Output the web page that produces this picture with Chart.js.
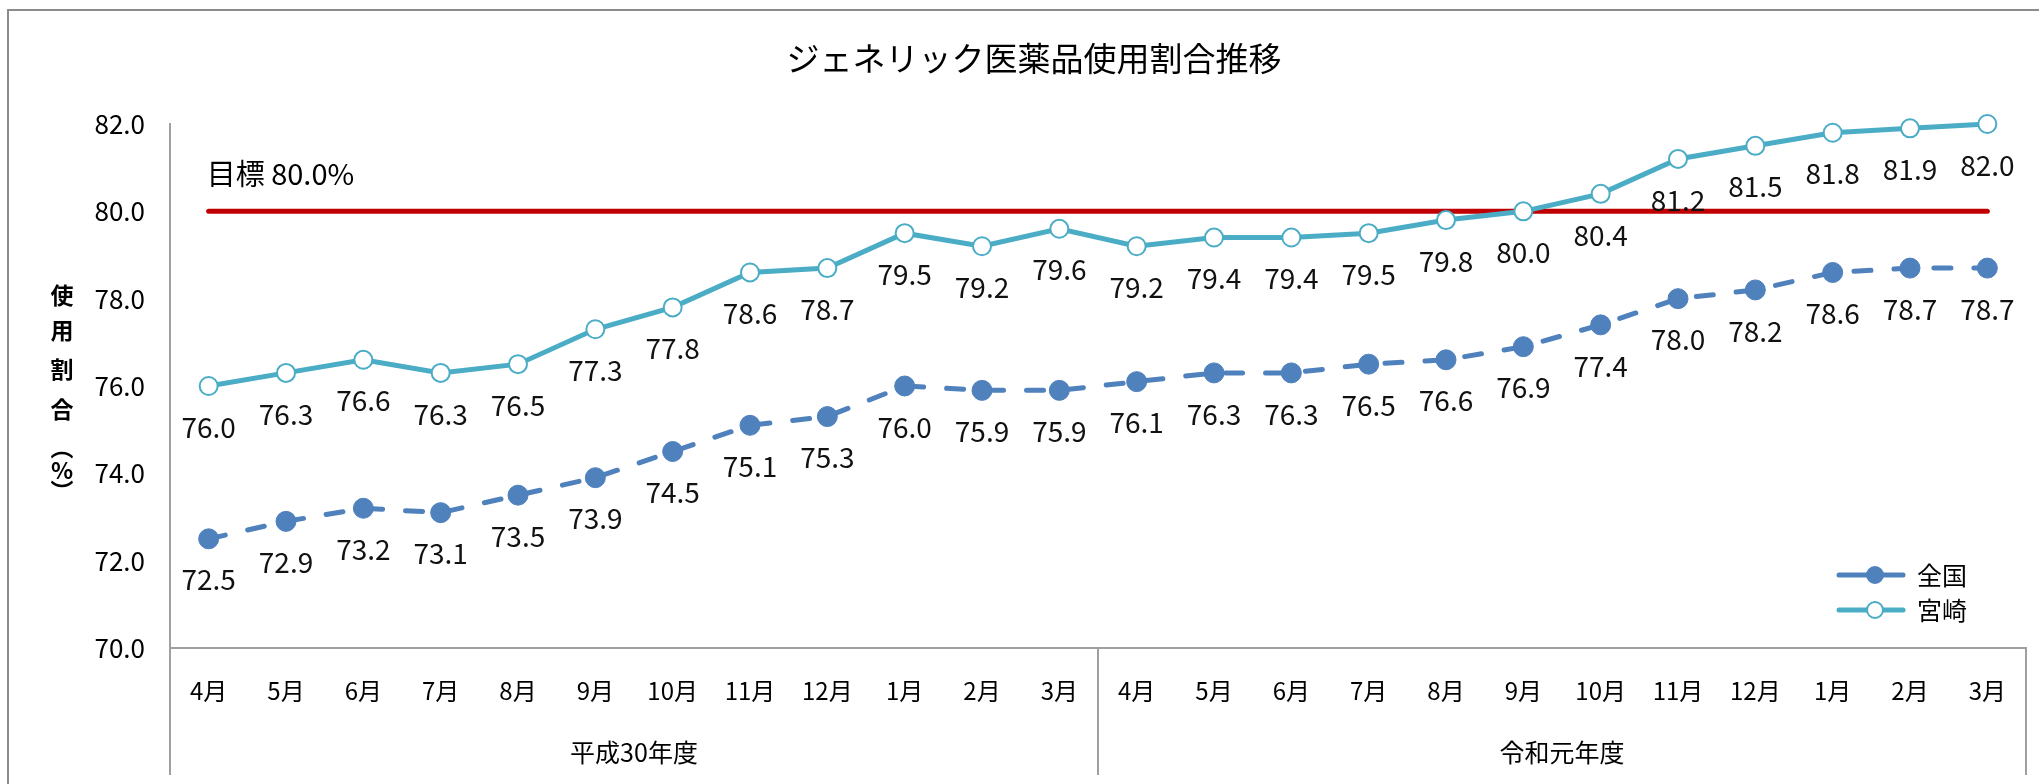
<!DOCTYPE html>
<html>
<head>
<meta charset="utf-8">
<title>ジェネリック医薬品使用割合推移</title>
<script src="https://cdn.jsdelivr.net/npm/chart.js"></script>
<style>
  html, body { margin: 0; padding: 0; overflow: hidden; background: #fff; }
  canvas { display: block; }
</style>
</head>
<body>
<canvas id="myChart" width="2068" height="784" style="width:2068px;height:784px"></canvas>
<script>
// data
const months = ['4月', '5月', '6月', '7月', '8月', '9月', '10月', '11月', '12月', '1月', '2月', '3月',
                '4月', '5月', '6月', '7月', '8月', '9月', '10月', '11月', '12月', '1月', '2月', '3月'];
const fiscalYears = ['平成30年度', '令和元年度'];
const zenkoku = [72.5, 72.9, 73.2, 73.1, 73.5, 73.9, 74.5, 75.1, 75.3, 76.0, 75.9, 75.9,
                 76.1, 76.3, 76.3, 76.5, 76.6, 76.9, 77.4, 78.0, 78.2, 78.6, 78.7, 78.7];
const miyazaki = [76.0, 76.3, 76.6, 76.3, 76.5, 77.3, 77.8, 78.6, 78.7, 79.5, 79.2, 79.6,
                  79.2, 79.4, 79.4, 79.5, 79.8, 80.0, 80.4, 81.2, 81.5, 81.8, 81.9, 82.0];
const target = 80.0;
const yMin = 70, yMax = 82, yStep = 2;
const chartTitle = 'ジェネリック医薬品使用割合推移';

const FONT = "'Noto Sans CJK JP', 'Noto Sans', sans-serif";
const GRAY = '#a0a0a0';
const BLUE = '#4F81BD';
const AQUA = '#4BACC6';
const RED = '#C00000';

// outer chart frame (right/bottom edges fall outside the window) + title
const framePlugin = {
  id: 'frame',
  beforeDraw(chart) {
    const ctx = chart.ctx;
    ctx.save();
    ctx.fillStyle = '#fff';
    ctx.fillRect(0, 0, chart.width, chart.height);
    ctx.strokeStyle = '#8c8c8c';
    ctx.lineWidth = 2;
    ctx.strokeRect(8, 10, chart.width, chart.height);
    ctx.font = '33px ' + FONT;
    ctx.fillStyle = '#000';
    ctx.textAlign = 'center';
    ctx.textBaseline = 'middle';
    ctx.fillText(chartTitle, chart.width / 2, 58);
    ctx.restore();
  }
};

// value labels under every point
const valueLabels = {
  id: 'valueLabels',
  afterDatasetsDraw(chart) {
    const ctx = chart.ctx;
    ctx.save();
    ctx.font = '28px ' + FONT;
    ctx.fillStyle = '#111';
    ctx.textAlign = 'center';
    ctx.textBaseline = 'middle';
    [0, 1].forEach(di => {
      const meta = chart.getDatasetMeta(di);
      meta.data.forEach((pt, i) => {
        ctx.fillText(chart.data.datasets[di].data[i].toFixed(1), pt.x, pt.y + 41);
      });
    });
    ctx.restore();
  }
};

// target text, y-axis title, year groups, legend
const extras = {
  id: 'extras',
  afterDraw(chart) {
    const ctx = chart.ctx;
    const area = chart.chartArea;
    const x = chart.scales.x, y = chart.scales.y;
    ctx.save();

    // 目標 label
    ctx.font = '29px ' + FONT;
    ctx.fillStyle = '#000';
    ctx.textAlign = 'left';
    ctx.textBaseline = 'middle';
    ctx.fillText('目標 ' + target.toFixed(1) + '%', x.getPixelForValue(0) - 2, y.getPixelForValue(target) - 37);

    // vertical y-axis title
    const chars = ['使', '用', '割', '合', '（', '%', '）'];
    const offs = [-95, -60, -21, 19, 58, 80, 101];
    const cy = (area.top + area.bottom) / 2 + 4;
    ctx.font = 'bold 23px ' + FONT;
    ctx.textAlign = 'center';
    chars.forEach((c, i) => {
      const py = cy + offs[i];
      if (c === '（' || c === '）') {
        ctx.save();
        ctx.translate(62, py);
        ctx.rotate(Math.PI / 2);
        ctx.fillText(c, 0, 0);
        ctx.restore();
      } else {
        ctx.fillText(c, 62, py);
      }
    });

    // year group separators and labels
    const half = (x.getPixelForValue(1) - x.getPixelForValue(0)) / 2;
    const per = months.length / fiscalYears.length;
    ctx.strokeStyle = GRAY;
    ctx.lineWidth = 2;
    for (let g = 0; g <= fiscalYears.length; g++) {
      const idx = Math.min(g * per, months.length - 1);
      const px = g * per >= months.length ? x.getPixelForValue(idx) + half : x.getPixelForValue(idx) - half;
      ctx.beginPath();
      ctx.moveTo(px, area.bottom);
      ctx.lineTo(px, area.bottom + 127);
      ctx.stroke();
    }
    ctx.font = '25px ' + FONT;
    ctx.fillStyle = '#000';
    fiscalYears.forEach((name, g) => {
      const a = x.getPixelForValue(g * per), b = x.getPixelForValue(g * per + per - 1);
      ctx.fillText(name, (a + b) / 2, area.bottom + 104);
    });

    // legend (inside plot, bottom right)
    const items = [
      { label: '全国', color: BLUE, fill: BLUE, r: 8 },
      { label: '宮崎', color: AQUA, fill: '#fff', r: 8 }
    ];
    items.forEach((it, i) => {
      const ly = area.bottom - 73 + i * 35;
      const lx = area.right - 187;
      ctx.strokeStyle = it.color;
      ctx.lineWidth = 5;
      ctx.lineCap = 'round';
      ctx.beginPath();
      ctx.moveTo(lx, ly);
      ctx.lineTo(lx + 64, ly);
      ctx.stroke();
      ctx.beginPath();
      ctx.arc(lx + 36, ly, it.r, 0, Math.PI * 2);
      ctx.fillStyle = it.fill;
      ctx.fill();
      ctx.lineWidth = 2;
      ctx.stroke();
      ctx.fillStyle = '#000';
      ctx.font = '25px ' + FONT;
      ctx.textAlign = 'left';
      ctx.fillText(it.label, lx + 78, ly);
    });
    ctx.restore();
  }
};

const ctx = document.getElementById('myChart').getContext('2d');
const myChart = new Chart(ctx, {
  type: 'line',
  data: {
    labels: months,
    datasets: [
      {
        label: '全国',
        data: zenkoku,
        borderColor: BLUE,
        borderWidth: 5,
        borderDash: [17, 23],
        borderCapStyle: 'round',
        pointRadius: 10,
        pointBackgroundColor: BLUE,
        pointBorderColor: BLUE,
        pointBorderWidth: 1,
        tension: 0,
        clip: false
      },
      {
        label: '宮崎',
        data: miyazaki,
        borderColor: AQUA,
        borderWidth: 5,
        pointRadius: 9,
        pointBackgroundColor: '#fff',
        pointBorderColor: AQUA,
        pointBorderWidth: 2,
        tension: 0,
        clip: false
      },
      {
        label: '目標',
        data: months.map(() => target),
        borderColor: RED,
        borderWidth: 5,
        borderCapStyle: 'round',
        pointRadius: 0,
        tension: 0
      }
    ]
  },
  options: {
    responsive: false,
    animation: false,
    layout: { padding: { left: 0, right: 42, top: 124, bottom: 0 } },
    plugins: {
      legend: { display: false },
      tooltip: { enabled: false },
      title: { display: false }
    },
    scales: {
      x: {
        offset: true,
        grid: { display: false, drawTicks: false },
        border: { display: true, color: GRAY, width: 2 },
        ticks: {
          autoSkip: false,
          maxRotation: 0,
          padding: 28,
          color: '#000',
          font: { family: FONT, size: 24 }
        },
        afterFit(scale) { scale.height = 136; }
      },
      y: {
        min: yMin,
        max: yMax,
        grid: { display: false, drawTicks: false },
        border: { display: true, color: GRAY, width: 2 },
        ticks: {
          stepSize: yStep,
          padding: 25,
          color: '#000',
          font: { family: FONT, size: 26 },
          callback: v => v.toFixed(1)
        },
        afterFit(scale) { scale.width = 170; }
      }
    }
  },
  plugins: [framePlugin, valueLabels, extras]
});
</script>
</body>
</html>
